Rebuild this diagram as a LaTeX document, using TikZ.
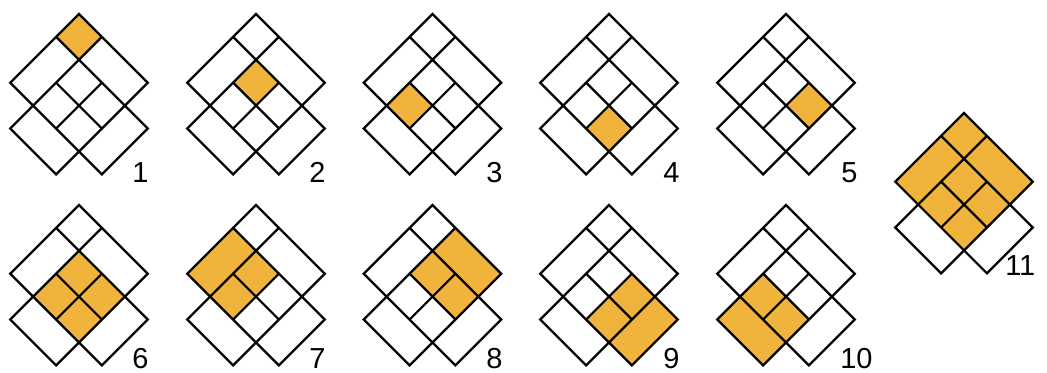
\documentclass[tikz,border=0pt]{standalone}
\usepackage{fontspec}
\setmainfont{Liberation Sans}
\definecolor{hl}{RGB}{240,180,60}
\tikzset{
  gridline/.style={line width=1.7pt, line join=miter, draw=black},
  hlfill/.style={fill=hl},
  lbl/.style={anchor=base west, inner sep=0pt, font=\fontsize{21.7}{26}\selectfont}
}
\newcommand\cellsq[4]{\fill[hlfill] (#1,#2)--(#3,#2)--(#3,#4)--(#1,#4)--cycle;}
\newcommand\motif[3]{%
 \begin{scope}[shift={({#1*0.75pt},{-#2*0.75pt})}, x={(17.175pt,-17.175pt)}, y={(-17.175pt,-17.175pt)}]
   #3
   \draw[gridline] (0,0)--(3,0)--(3,1)--(4,1)--(4,3)--(3,3)--(3,4)--(1,4)--(1,3)--(0,3)--cycle;
   \draw[gridline] (1,0)--(1,3) (0,1)--(3,1) (2,1)--(2,3) (1,2)--(3,2) (3,1)--(3,3) (1,3)--(3,3);
 \end{scope}}
\begin{document}
\begin{tikzpicture}[x=0.75pt,y=-0.75pt]
\useasboundingbox (0,0) rectangle (1047,372);
\fill[white] (0,0) rectangle (1047,372);
% row 1
\motif{79}{14}{\cellsq{0}{0}{1}{1}}
\motif{256}{14}{\cellsq{1}{1}{2}{2}}
\motif{432.5}{14}{\cellsq{1}{2}{2}{3}}
\motif{609}{14}{\cellsq{2}{2}{3}{3}}
\motif{786}{14}{\cellsq{2}{1}{3}{2}}
% row 2
\motif{79}{205}{\cellsq{1}{1}{3}{3}}
\motif{256}{205}{\cellsq{0}{1}{2}{3}}
\motif{432.5}{205}{\cellsq{1}{0}{3}{2}}
\motif{609}{205}{\cellsq{2}{1}{4}{3}}
\motif{786}{205}{\cellsq{1}{2}{3}{4}}
% 11
\motif{964}{113}{\cellsq{0}{0}{3}{3}}
% labels
\node[lbl] (l1) at (132,182) {1};
\node[lbl] (l2) at (309,182) {2};
\node[lbl] (l3) at (486,182) {3};
\node[lbl] (l4) at (663,182) {4};
\node[lbl] (l5) at (841,182) {5};
\node[lbl] (l6) at (132,368) {6};
\node[lbl] (l7) at (309,368) {7};
\node[lbl] (l8) at (486,368) {8};
\node[lbl] (l9) at (663,368) {9};
\node[lbl] (l10) at (840,368) {10};
\node[lbl] (l11) at (1005,275) {11};
\end{tikzpicture}
\end{document}
